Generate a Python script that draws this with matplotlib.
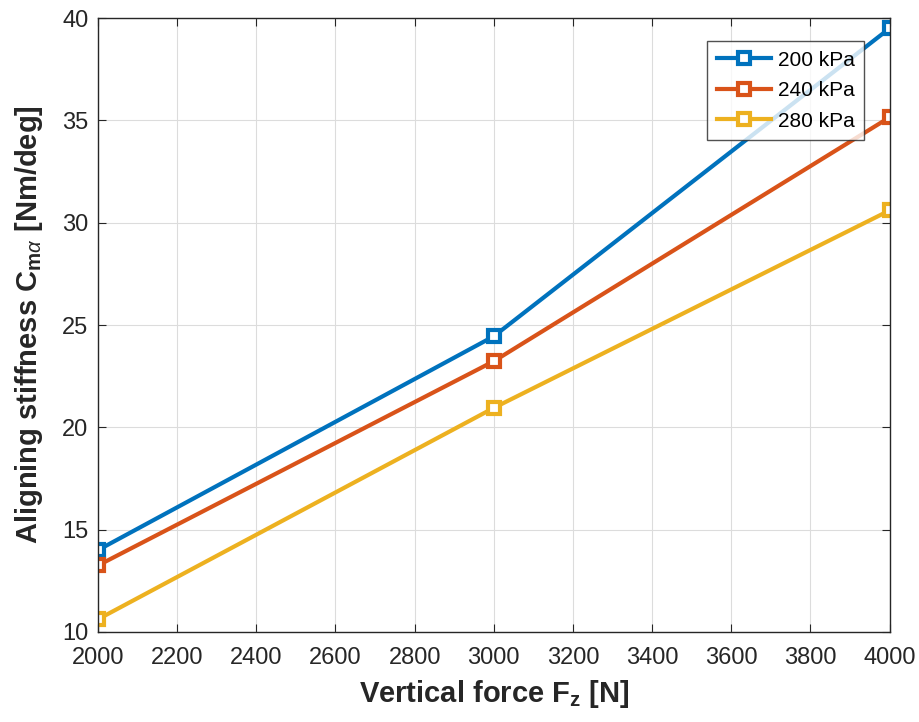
import matplotlib
matplotlib.use("Agg")
import matplotlib.pyplot as plt

force = [2000, 3000, 4000]
s200 = [14.0, 24.45, 39.5]
s240 = [13.25, 23.23, 35.15]
s280 = [10.62, 20.95, 30.6]
labels = ["200 kPa", "240 kPa", "280 kPa"]
colors = ["#0072BD", "#D95319", "#EDB120"]

plt.rcParams['font.family'] = ['Liberation Sans', 'DejaVu Sans']
plt.rcParams['mathtext.fontset'] = 'custom'
plt.rcParams['mathtext.rm'] = 'Liberation Sans'
plt.rcParams['mathtext.it'] = 'Liberation Sans:italic'
plt.rcParams['mathtext.bf'] = 'Liberation Sans:bold'

fig = plt.figure(figsize=(9.2, 7.22), dpi=100)
ax = fig.add_axes([0.1065, 0.1247, 0.8605, 0.8503])

for ys, lab, c in zip([s200, s240, s280], labels, colors):
    ax.plot(force, ys, color=c, lw=3, marker='s', ms=8.5, mew=3,
            mfc='white', mec=c, label=lab)

ax.set_xlim(2000, 4000)
ax.set_ylim(10, 40)
ax.set_xticks(range(2000, 4001, 200))
ax.set_yticks(range(10, 41, 5))
ax.grid(True, color='#dcdcdc', lw=0.8)
ax.set_axisbelow(True)
ax.tick_params(direction='in', labelsize=17, length=6, colors='#262626', top=True, right=True)
ax.tick_params(axis='x', pad=11)
ax.tick_params(axis='y', pad=7)
for sp in ax.spines.values():
    sp.set_color('#262626')
    sp.set_linewidth(1)

ax.set_xlabel(r"Vertical force F$_\mathbf{z}$ [N]", fontsize=21, fontweight='bold',
              color='#262626', labelpad=6)
ax.set_ylabel(r"Aligning stiffness C$_{\mathbf{m}\alpha}$ [Nm/deg]", fontsize=21,
              fontweight='bold', color='#262626', labelpad=12)

leg = ax.legend(loc='upper right', bbox_to_anchor=(0.968, 0.962), fontsize=15, frameon=True,
                fancybox=False, edgecolor='#262626', handlelength=2.6, handletextpad=0.35,
                borderpad=0.45, labelspacing=0.55, borderaxespad=0)
leg.get_frame().set_linewidth(1)

fig.savefig("out.png", dpi=100)
